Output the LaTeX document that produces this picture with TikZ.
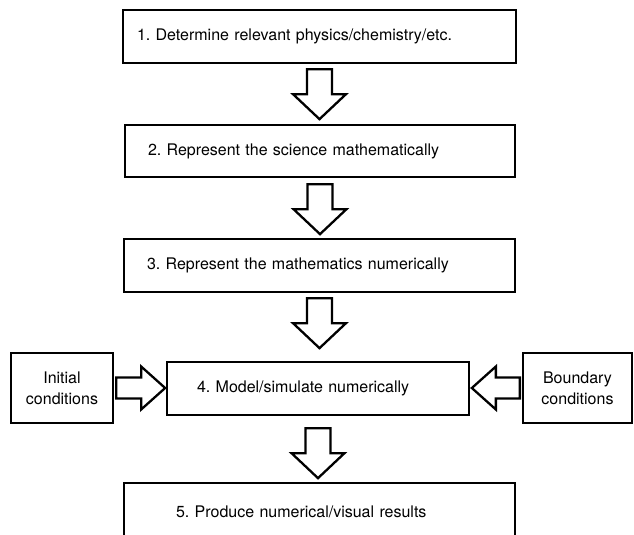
\documentclass[tikz,border=0pt]{standalone}
\usepackage{fontspec}
\setmainfont{TeX Gyre Heros}
\usepackage{tikz}
\usetikzlibrary{calc}
\frenchspacing

\begin{document}
\begin{tikzpicture}[x=1pt,y=-1pt,
  stepbox/.style={draw=black,line width=2.3pt,align=left,font=\fontsize{16}{20}\selectfont,inner ysep=0pt,minimum height=53pt},
  sidebox/.style={draw=black,line width=2.3pt,align=center,font=\fontsize{16}{21}\selectfont,inner sep=0pt,minimum height=70pt},
  blockarrow/.style={draw=black,line width=2.3pt,fill=white,line join=miter}]
\useasboundingbox (0,0) rectangle (634,535);
% the five steps
\node[stepbox,text width=365pt,inner xsep=14pt] (b1) at (319.5,36.5) {1. Determine relevant physics/chemistry/etc.};
\node[stepbox,text width=344pt,inner xsep=23pt,minimum height=52pt] (b2) at (320,151) {2. Represent the science mathematically};
\node[stepbox,text width=345pt,inner xsep=23pt] (b3) at (319.5,265.5) {3. Represent the mathematics numerically};
\node[stepbox,text width=242pt,inner xsep=30pt] (b4) at (318,388.5) {4. Model/simulate numerically};
\node[stepbox,text width=287pt,inner xsep=52pt,minimum height=58pt] (b5) at (319.5,512) {5. Produce numerical/visual results};
% inputs at the sides
\node[sidebox,minimum width=102pt] (ic) at (62,388) {Initial\\conditions};
\node[sidebox,minimum width=109pt] (bc) at (577.5,388) {Boundary\\conditions};
% hollow arrows
\foreach \a/\g in {b1/5,b2/6,b3/5,b4/12}
  \draw[blockarrow,shift={($(\a.south)+(0,\g)$)}] (-12.5,0) -- (12.5,0) -- (12.5,25) -- (26.5,25) -- (0,50) -- (-26.5,25) -- (-12.5,25) -- cycle;
\draw[blockarrow,shift={($(ic.east)+(2,0)$)}] (0,-10.5) -- (25,-10.5) -- (25,-21.5) -- (49,0) -- (25,21.5) -- (25,10.5) -- (0,10.5) -- cycle;
\draw[blockarrow,shift={($(bc.west)+(-2,0)$)}] (0,-10.5) -- (-24,-10.5) -- (-24,-21.5) -- (-48,0) -- (-24,21.5) -- (-24,10.5) -- (0,10.5) -- cycle;
\end{tikzpicture}
\end{document}
